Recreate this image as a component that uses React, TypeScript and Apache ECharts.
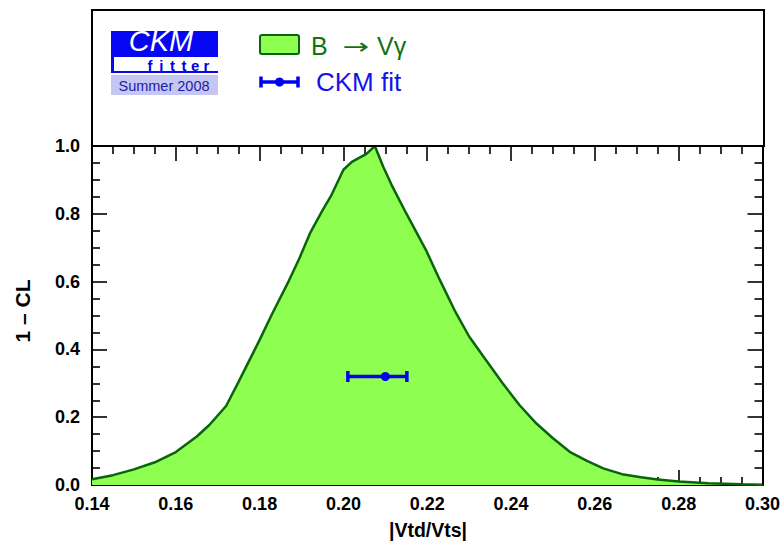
import React, { useEffect, useRef } from "react";
import * as echarts from "echarts";

// |Vtd/Vts| scan of 1 - CL from B -> V gamma
const vtdVts = [
  0.14, 0.145, 0.15, 0.155, 0.16, 0.165, 0.168, 0.172, 0.175, 0.18, 0.183, 0.187,
  0.1895, 0.192, 0.195, 0.197, 0.2, 0.202, 0.2055, 0.2075, 0.2095, 0.2117, 0.215,
  0.2197, 0.223, 0.2265, 0.23, 0.234, 0.238, 0.242, 0.246, 0.25, 0.254, 0.258,
  0.262, 0.2665, 0.271, 0.275, 0.28, 0.287, 0.295, 0.3,
];
const oneMinusCL = [
  0.017, 0.029, 0.046, 0.067, 0.097, 0.143, 0.177, 0.233, 0.305, 0.428, 0.505, 0.603,
  0.669, 0.742, 0.81, 0.852, 0.93, 0.953, 0.977, 1.0, 0.939, 0.88, 0.801,
  0.693, 0.605, 0.516, 0.438, 0.369, 0.3, 0.236, 0.182, 0.138, 0.098, 0.072,
  0.049, 0.032, 0.023, 0.016, 0.01, 0.005, 0.002, 0.001,
];

// CKM fit: central value, plotted height, lower and upper edge
const ckmFit = [0.21, 0.32, 0.2007, 0.2155];

const xTicks = { min: 0.14, max: 0.3, interval: 0.02 };
const yTicks = { min: 0, max: 1, interval: 0.2 };

const FILL = "#8eff50";
const EDGE = "#0a640a";
const BLUE = "#0000f0";
const LEGEND_GREEN = "#137313";
const FONT = "'Liberation Sans', Arial, Helvetica, sans-serif";

function axisBase(extra: any) {
  return {
    axisLine: { show: true, onZero: false, lineStyle: { color: "#000", width: 2 } },
    axisTick: { show: true, inside: true, length: 15, lineStyle: { color: "#000", width: 1.6 } },
    minorTick: { show: true, splitNumber: 4, length: 8, lineStyle: { color: "#000", width: 1.6 } },
    splitLine: { show: false },
    minorSplitLine: { show: false },
    ...extra,
  };
}

export default function App() {
  const ref = useRef<HTMLDivElement>(null);

  useEffect(() => {
    if (!ref.current) return;
    const chart = echarts.init(ref.current, undefined, { renderer: "svg" });

    const curve = vtdVts.map((x, i) => [x, oneMinusCL[i]]);

    const tickLabel = {
      fontFamily: FONT,
      fontWeight: "bold",
      fontSize: 18,
      color: "#000",
    };

    chart.setOption({
      animation: false,
      backgroundColor: "#fff",
      grid: { left: 92, right: 19, top: 146, bottom: 60 },
      xAxis: [
        axisBase({
          type: "value",
          position: "bottom",
          ...xTicks,
          axisLabel: {
            ...tickLabel,
            margin: 10,
            formatter: (v: number) => v.toFixed(2),
          },
        }),
        axisBase({
          type: "value",
          position: "top",
          ...xTicks,
          axisLabel: { show: false },
        }),
      ],
      yAxis: [
        axisBase({
          type: "value",
          position: "left",
          ...yTicks,
          axisLabel: {
            ...tickLabel,
            margin: 12,
            formatter: (v: number) => v.toFixed(1),
          },
        }),
        axisBase({
          type: "value",
          position: "right",
          ...yTicks,
          axisLabel: { show: false },
        }),
      ],
      series: [
        {
          type: "line",
          data: curve,
          symbol: "none",
          smooth: false,
          lineStyle: { color: EDGE, width: 2.5 },
          areaStyle: { color: FILL, opacity: 1 },
          z: 2,
        },
        {
          type: "custom",
          data: [ckmFit],
          encode: { x: 0, y: 1 },
          z: 5,
          renderItem: (params: any, api: any) => {
            const c = api.coord([api.value(0), api.value(1)]);
            const lo = api.coord([api.value(2), api.value(1)]);
            const hi = api.coord([api.value(3), api.value(1)]);
            const st = { stroke: BLUE, lineWidth: 3.5 };
            return {
              type: "group",
              children: [
                { type: "line", shape: { x1: lo[0] + 1.5, y1: lo[1], x2: hi[0] - 1.5, y2: hi[1] }, style: st },
                { type: "line", shape: { x1: lo[0] + 1.5, y1: lo[1] - 5.5, x2: lo[0] + 1.5, y2: lo[1] + 5.5 }, style: st },
                { type: "line", shape: { x1: hi[0] - 1.5, y1: hi[1] - 5.5, x2: hi[0] - 1.5, y2: hi[1] + 5.5 }, style: st },
                { type: "circle", shape: { cx: c[0], cy: c[1], r: 4.5 }, style: { fill: BLUE } },
              ],
            };
          },
        },
      ],
      graphic: [
        // frame of the header area
        {
          type: "rect",
          shape: { x: 92, y: 10, width: 672, height: 136 },
          style: { fill: "none", stroke: "#000", lineWidth: 2 },
          z: 10,
        },
        // CKMfitter logo
        { type: "rect", shape: { x: 111, y: 31, width: 107, height: 42 }, style: { fill: "#0606f2" } },
        { type: "rect", shape: { x: 114, y: 57, width: 104, height: 14 }, style: { fill: "#fff" } },
        { type: "rect", shape: { x: 111, y: 75, width: 107, height: 20 }, style: { fill: "#c6c6f2" } },
        {
          type: "text",
          x: 161,
          y: 55,
          style: {
            text: "CKM",
            fill: "#fff",
            font: `italic 29px ${FONT}`,
            textAlign: "center",
            textVerticalAlign: "bottom",
          },
        },
        ...["f", "i", "t", "t", "e", "r"].map((ch, i) => ({
          type: "text",
          x: 150 + i * 11.3,
          y: 65,
          style: {
            text: ch,
            fill: "#0000e6",
            font: `bold 15px ${FONT}`,
            textAlign: "center",
            textVerticalAlign: "middle",
          },
        })),
        {
          type: "text",
          x: 164,
          y: 86,
          style: {
            text: "Summer 2008",
            fill: "#1c1ca6",
            font: `14.5px ${FONT}`,
            textAlign: "center",
            textVerticalAlign: "middle",
          },
        },
        // legend: B -> V gamma
        {
          type: "rect",
          shape: { x: 260, y: 35, width: 39, height: 19, r: 2 },
          style: { fill: FILL, stroke: EDGE, lineWidth: 2 },
        },
        {
          type: "text",
          x: 311,
          y: 46,
          style: {
            text: "B",
            fill: LEGEND_GREEN,
            font: `25px ${FONT}`,
            textVerticalAlign: "middle",
          },
        },
        {
          type: "text",
          x: 356,
          y: 46,
          scaleX: 1.45,
          style: {
            text: "\u2192",
            fill: LEGEND_GREEN,
            font: `22px 'DejaVu Sans', sans-serif`,
            textAlign: "center",
            textVerticalAlign: "middle",
          },
        },
        {
          type: "text",
          x: 377,
          y: 46,
          style: {
            text: "V\u03b3",
            fill: LEGEND_GREEN,
            font: `25px ${FONT}`,
            textVerticalAlign: "middle",
          },
        },
        // legend: CKM fit
        { type: "line", shape: { x1: 261, y1: 82, x2: 298, y2: 82 }, style: { stroke: BLUE, lineWidth: 3.5 } },
        { type: "line", shape: { x1: 261, y1: 76.5, x2: 261, y2: 87.5 }, style: { stroke: BLUE, lineWidth: 3.5 } },
        { type: "line", shape: { x1: 298, y1: 76.5, x2: 298, y2: 87.5 }, style: { stroke: BLUE, lineWidth: 3.5 } },
        { type: "circle", shape: { cx: 279.5, cy: 82, r: 4.5 }, style: { fill: BLUE } },
        {
          type: "text",
          x: 316,
          y: 82,
          style: {
            text: "CKM fit",
            fill: "#1414e8",
            font: `26px ${FONT}`,
            textVerticalAlign: "middle",
          },
        },
        // axis titles
        {
          type: "text",
          x: 428,
          y: 530,
          style: {
            text: "|Vtd/Vts|",
            fill: "#000",
            font: `bold 19.5px ${FONT}`,
            textAlign: "center",
            textVerticalAlign: "middle",
          },
        },
        {
          type: "text",
          x: 22,
          y: 311,
          rotation: Math.PI / 2,
          style: {
            text: "1 \u2013 CL",
            fill: "#000",
            font: `bold 21px ${FONT}`,
            textAlign: "center",
            textVerticalAlign: "middle",
          },
        },
      ],
    });

    return () => chart.dispose();
  }, []);

  return (
    <div
      ref={ref}
      style={{ position: "fixed", left: 0, top: 0, width: 783, height: 545 }}
    />
  );
}
